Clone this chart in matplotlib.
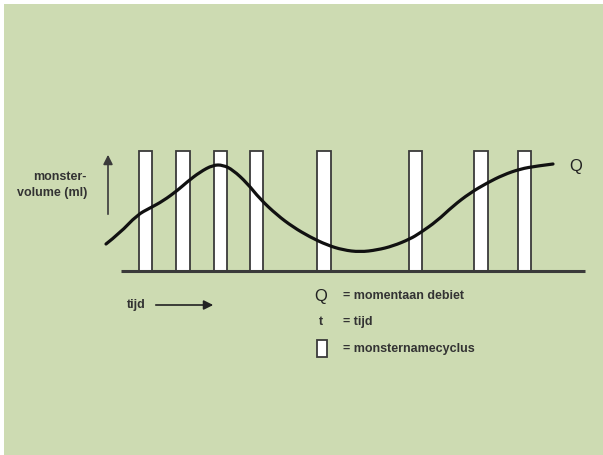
import matplotlib
matplotlib.use("Agg")
import matplotlib.pyplot as plt
from matplotlib.patches import Rectangle, FancyArrowPatch, PathPatch
from matplotlib.path import Path

# ---- data (pixel-space drawing coordinates, y downward) ----
bar_centers = [145.5, 183, 220.5, 256.5, 324, 415.5, 481, 524.5]
bar_top = 151
baseline_y = 271

curve_x = [106, 120, 137, 150, 163, 178, 187, 200, 213, 223, 233, 247, 260,
           277, 293, 310, 327, 343, 360, 377, 393, 410, 420, 437, 453, 470,
           487, 503, 520, 537, 553]
curve_y = [244, 233, 215, 208, 201, 190, 182, 172, 165, 165, 170, 183, 199,
           215, 227, 237, 245, 250, 252, 250, 246, 239, 233, 221, 206, 193,
           183, 175, 169, 166, 164]

legend_symbols = ["Q", "t"]
legend_texts = ["= momentaan debiet", "= tijd", "= monsternamecyclus"]

GREEN = "#cddbb2"
DARK = "#3a3a3a"
FONT = "Liberation Sans"
FS = 9

fig = plt.figure(figsize=(6.03, 4.55), dpi=100)
fig.patch.set_facecolor("white")
ax = fig.add_axes([0, 0, 1, 1])
ax.set_xlim(0, 603)
ax.set_ylim(455, 0)
ax.axis("off")

ax.add_patch(Rectangle((4, 4), 603, 455, facecolor=GREEN, edgecolor="none", zorder=0))

# bars
ax.bar(bar_centers, [bar_top - baseline_y] * len(bar_centers), bottom=baseline_y,
       width=13.5, color="white", edgecolor=DARK, linewidth=1.3, zorder=2)

# baseline
ax.plot([121, 585], [baseline_y, baseline_y], color=DARK, lw=2.2, zorder=3,
        solid_capstyle="butt")

# curve: smooth quadratic Bezier path through the read points
pts = list(zip(curve_x, curve_y))
verts = [pts[0]]
codes = [Path.MOVETO]
for i in range(1, len(pts) - 1):
    mid = ((pts[i][0] + pts[i + 1][0]) / 2, (pts[i][1] + pts[i + 1][1]) / 2)
    if i == len(pts) - 2:
        mid = pts[i + 1]
    verts += [pts[i], mid]
    codes += [Path.CURVE3, Path.CURVE3]
ax.add_patch(PathPatch(Path(verts, codes), facecolor="none", edgecolor="#111111",
                       lw=2.3, capstyle="round", joinstyle="round", zorder=4))
ax.text(576, 167, "Q", fontsize=12, family=FONT, ha="center", va="center",
        color="#222222")

# y arrow
ax.add_patch(FancyArrowPatch((108, 217), (108, 152), arrowstyle="-|>",
                             mutation_scale=14, color="#3a3a3a", lw=1.2, zorder=3))
ax.text(87, 177, "monster-", fontsize=FS, family=FONT, weight="bold",
        ha="right", va="center", color="#333333")
ax.text(87, 193, "volume (ml)", fontsize=FS, family=FONT, weight="bold",
        ha="right", va="center", color="#333333")

# time arrow
ax.text(127, 305, "tijd", fontsize=FS, family=FONT, weight="bold",
        ha="left", va="center", color="#333333")
ax.add_patch(FancyArrowPatch((153, 305), (216, 305), arrowstyle="-|>",
                             mutation_scale=14, color="#222222", lw=1.2, zorder=3))

# legend
ax.text(321, 296, legend_symbols[0], fontsize=12, family=FONT, ha="center",
        va="center", color="#222222")
ax.text(321, 322, legend_symbols[1], fontsize=FS, family=FONT, weight="bold",
        ha="center", va="center", color="#333333")
ax.add_patch(Rectangle((317, 340), 9.5, 17, facecolor="white", edgecolor=DARK,
                       linewidth=1.3, zorder=2))
for ty, t in zip([296, 322, 349], legend_texts):
    ax.text(343, ty, t, fontsize=FS, family=FONT, weight="bold",
            ha="left", va="center", color="#333333")

fig.savefig("out.png", dpi=100, facecolor=fig.get_facecolor())
